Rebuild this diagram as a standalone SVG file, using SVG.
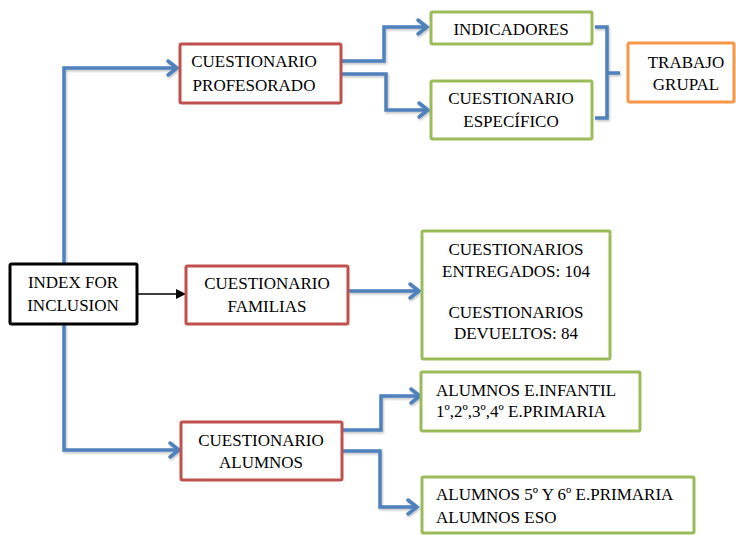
<svg xmlns="http://www.w3.org/2000/svg" width="736" height="535" viewBox="0 0 736 535" font-family="'Liberation Serif', 'DejaVu Serif', 'Times New Roman', serif">
  <defs>
    <style>
      text { font-family: 'Liberation Serif', 'DejaVu Serif', 'Times New Roman', serif; font-size: 17px; fill: #000; }
      .c { text-anchor: middle; }
      .box { fill: #fff; stroke-width: 3; }
      .black { stroke: #000; }
      .red { stroke: #c0504d; }
      .green { stroke: #9bbb59; }
      .orange { stroke: #f79646; }
      .link { fill: none; stroke: #4f81bd; stroke-width: 3.5; stroke-linejoin: miter; }
      .head { fill: none; stroke: #4f81bd; stroke-width: 3.5; stroke-linecap: round; stroke-linejoin: miter; }
    </style>
    <filter id="shadow" x="-10%" y="-10%" width="120%" height="120%">
      <feDropShadow dx="1" dy="1.5" stdDeviation="1" flood-color="#000" flood-opacity="0.25"/>
    </filter>
    <marker id="solidArrow" viewBox="0 0 10 10" refX="10" refY="5" markerWidth="10" markerHeight="10" markerUnits="userSpaceOnUse" orient="auto">
      <path d="M0,0 L10,5 L0,10 Z" fill="#000"/>
    </marker>
  </defs>

  <!-- connectors -->
  <g id="connectors" filter="url(#shadow)">
    <!-- trunk from INDEX up to PROFESORADO -->
    <path class="link" d="M64,264 V68 H176"/>
    <path class="head" d="M168,61 L177,68 L168,75"/>
    <!-- trunk from INDEX down to ALUMNOS -->
    <path class="link" d="M64,324 V450 H178"/>
    <path class="head" d="M170,443 L179,450 L170,457"/>
    <!-- PROFESORADO branches -->
    <path class="link" d="M341,61 H384 V27 H426"/>
    <path class="head" d="M418,20 L427,27 L418,34"/>
    <path class="link" d="M341,74 H386 V110 H427"/>
    <path class="head" d="M419,103 L428,110 L419,117"/>
    <!-- brace into TRABAJO GRUPAL -->
    <path class="link" d="M595,27 H607 V73 H620 M607,73 V118 H595"/>
    <!-- FAMILIAS to counts -->
    <path class="link" d="M348,291 H418"/>
    <path class="head" d="M410,284 L419,291 L410,298"/>
    <!-- ALUMNOS branches -->
    <path class="link" d="M342,430 H381 V396 H419"/>
    <path class="head" d="M411,389 L420,396 L411,403"/>
    <path class="link" d="M342,451 H380 V507 H416"/>
    <path class="head" d="M408,500 L417,507 L408,514"/>
  </g>
  <g id="connector-black">
    <line x1="137" y1="294" x2="186" y2="294" stroke="#000" stroke-width="1.5" marker-end="url(#solidArrow)"/>
  </g>

  <g id="index">
    <rect class="box black" x="10" y="264" width="127" height="60" rx="1.5"/>
    <text class="c" x="73" y="288">INDEX FOR</text>
    <text class="c" x="73" y="311">INCLUSION</text>
  </g>

  <g id="profesorado">
    <rect class="box red" x="180" y="44" width="161" height="59" rx="1.5"/>
    <text class="c" x="254" y="67">CUESTIONARIO</text>
    <text class="c" x="254" y="91">PROFESORADO</text>
  </g>

  <g id="indicadores">
    <rect class="box green" x="431" y="12" width="161" height="32" rx="1.5"/>
    <text class="c" x="511" y="35">INDICADORES</text>
  </g>

  <g id="especifico">
    <rect class="box green" x="431" y="81" width="161" height="58" rx="1.5"/>
    <text class="c" x="511" y="104">CUESTIONARIO</text>
    <text class="c" x="511" y="127">ESPECÍFICO</text>
  </g>

  <g id="trabajo">
    <rect class="box orange" x="628" y="43" width="106" height="59" rx="1.5"/>
    <text class="c" x="686" y="68">TRABAJO</text>
    <text class="c" x="686" y="90">GRUPAL</text>
  </g>

  <g id="familias">
    <rect class="box red" x="186" y="266" width="162" height="58" rx="1.5"/>
    <text class="c" x="267" y="289">CUESTIONARIO</text>
    <text class="c" x="267" y="312">FAMILIAS</text>
  </g>

  <g id="recuento">
    <rect class="box green" x="422" y="231" width="188" height="128" rx="1.5"/>
    <text class="c" x="516" y="255">CUESTIONARIOS</text>
    <text class="c" x="516" y="277">ENTREGADOS: 104</text>
    <text class="c" x="516" y="318">CUESTIONARIOS</text>
    <text class="c" x="516" y="339">DEVUELTOS: 84</text>
  </g>

  <g id="alumnos">
    <rect class="box red" x="181" y="422" width="161" height="58" rx="1.5"/>
    <text class="c" x="261" y="446">CUESTIONARIO</text>
    <text class="c" x="261" y="468">ALUMNOS</text>
  </g>

  <g id="infantil">
    <rect class="box green" x="421" y="372" width="219" height="59" rx="1.5"/>
    <text x="436" y="396">ALUMNOS E.INFANTIL</text>
    <text x="436" y="417">1º,2º,3º,4º E.PRIMARIA</text>
  </g>

  <g id="primaria-eso">
    <rect class="box green" x="422" y="477" width="272" height="56" rx="1.5"/>
    <text x="436" y="500">ALUMNOS 5º Y 6º E.PRIMARIA</text>
    <text x="436" y="523">ALUMNOS ESO</text>
  </g>
</svg>
